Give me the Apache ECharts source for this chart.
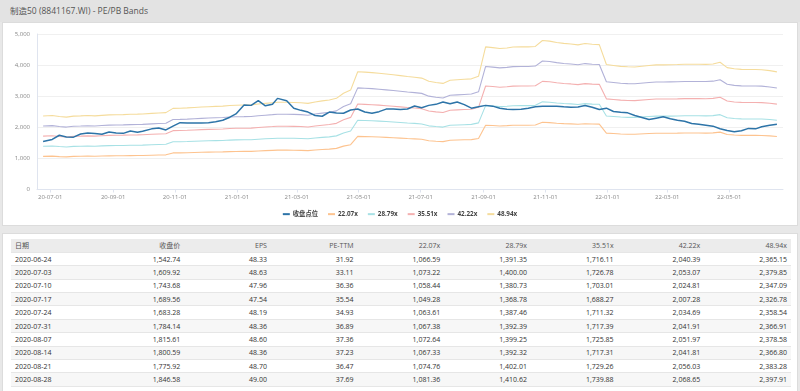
<!DOCTYPE html>
<html><head><meta charset="utf-8">
<script src="https://cdn.jsdelivr.net/npm/echarts@6/dist/echarts.min.js"></script>
<style>
body{margin:0;width:800px;height:391px;overflow:hidden;background:#e8e8e8;font-family:"Open Sans","Noto Sans CJK SC",sans-serif;position:relative}
#title{position:absolute;left:0;top:0;width:800px;height:22px;background:#e3e3e3;color:#555;font-size:8.5px;line-height:22px;padding-left:10px;box-sizing:border-box}
#panel{position:absolute;left:2px;top:22px;width:796px;height:204px;background:#fff;border:1px solid #dcdcdc;box-sizing:border-box}
#chart{position:absolute;left:0;top:22px;width:800px;height:204px}
#tpanel{position:absolute;left:2px;top:233px;width:796px;height:170px;background:#fff;border:1px solid #dcdcdc;box-sizing:border-box}
#tbl{position:absolute;left:8px;top:5px;width:780px;border-collapse:collapse;table-layout:fixed;font-size:7px;color:#333}
#tbl td,#tbl th{height:13.4px;padding:0 4px;text-align:right;border-bottom:1px solid #e6e6e6;font-weight:normal;white-space:nowrap;box-sizing:border-box}
#tbl th{background:#ececec;color:#555}
#tbl td:first-child,#tbl th:first-child{text-align:left}
#tbl tr.alt td{background:#f7f7f7}
</style></head>
<body>
<div id="title">制造50 (8841167.WI) - PE/PB Bands</div>
<div id="panel"></div>
<div id="chart"></div>
<div id="tpanel"><table id="tbl"></table></div>
<script>
// ---------- data ----------
const dates = [
'2020-06-24','2020-07-03','2020-07-10','2020-07-17','2020-07-24','2020-07-31','2020-08-07','2020-08-14','2020-08-21','2020-08-28',
'2020-09-04','2020-09-11','2020-09-18','2020-09-25','2020-09-30','2020-10-09','2020-10-16','2020-10-23','2020-10-30','2020-11-06',
'2020-11-13','2020-11-20','2020-11-27','2020-12-04','2020-12-11','2020-12-18','2020-12-25','2020-12-31','2021-01-08','2021-01-15',
'2021-01-22','2021-01-29','2021-02-05','2021-02-10','2021-02-19','2021-02-26','2021-03-05','2021-03-12','2021-03-19','2021-03-26',
'2021-04-02','2021-04-09','2021-04-16','2021-04-23','2021-04-30','2021-05-07','2021-05-14','2021-05-21','2021-05-28','2021-06-04',
'2021-06-11','2021-06-18','2021-06-25','2021-07-02','2021-07-09','2021-07-16','2021-07-23','2021-07-30','2021-08-06','2021-08-13',
'2021-08-20','2021-08-27','2021-09-03','2021-09-10','2021-09-17','2021-09-24','2021-09-30','2021-10-08','2021-10-15','2021-10-22',
'2021-10-29','2021-11-05','2021-11-12','2021-11-19','2021-11-26','2021-12-03','2021-12-10','2021-12-17','2021-12-24','2021-12-31',
'2022-01-07','2022-01-14','2022-01-21','2022-01-28','2022-02-11','2022-02-18','2022-02-25','2022-03-04','2022-03-11','2022-03-18',
'2022-03-25','2022-04-01','2022-04-08','2022-04-15','2022-04-22','2022-04-29','2022-05-06','2022-05-13','2022-05-20','2022-05-27',
'2022-06-02','2022-06-10','2022-06-17'];
const closeVals = [
1542.74,1609.92,1743.68,1689.56,1683.28,1784.14,1815.61,1800.59,1775.92,1846.58,
1820,1805,1880,1840,1870,1950,1975,1915,2040,2150,
2135,2140,2140,2150,2175,2225,2325,2430,2715,2705,
2855,2690,2740,2930,2855,2610,2545,2490,2380,2355,
2490,2460,2450,2556,2590,2490,2450,2503,2585,2585,
2575,2590,2685,2630,2705,2738,2813,2755,2815,2730,
2615,2660,2705,2680,2615,2583,2572,2580,2615,2658,
2679,2679,2680,2660,2645,2650,2700,2647,2572,2615,
2508,2486,2465,2380,2251,2294,2337,2272,2230,2197,
2123,2101,2069,2037,1951,1898,1860,1890,1965,1950,
2016,2069,2100];
const epsVals = [
48.33,48.63,47.96,47.54,48.19,48.36,48.60,48.36,48.70,49.00,
49.1,49.2,49.4,49.5,49.6,50.0,50.3,50.5,53.3,53.4,
53.6,53.9,54.2,54.4,54.6,54.8,55.2,55.4,55.5,55.6,
56.2,56.6,57.0,57.3,57.3,57.2,57.0,56.6,57.5,58.2,
58.8,59.9,63.2,65.3,77.4,77.1,76.8,76.4,75.9,75.4,
74.8,74.2,73.8,73.2,71.1,70.3,69.7,71.8,72.1,72.4,
72.7,74.4,93.7,93.2,92.6,93.0,93.6,93.7,93.7,94.0,
97.9,97.5,96.6,96.0,95.6,95.0,95.9,95.4,95.2,82.1,
81.5,80.9,80.6,80.5,81.5,81.9,81.9,82.0,82.1,82.3,
82.3,82.3,82.2,82.5,83.6,80.1,79.3,78.9,78.8,78.8,
78.7,78.1,77.3];
const multiples = [22.07, 28.79, 35.51, 42.22, 48.94];
const bandNames = ['22.07x','28.79x','35.51x','42.22x','48.94x'];
const closeName = '收盘点位';
const yTicks = [0, 1000, 2000, 3000, 4000, 5000];
const xTickDates = ['2020-07-01','2020-09-01','2020-11-01','2021-01-01','2021-03-01','2021-05-01',
  '2021-07-01','2021-09-01','2021-11-01','2022-01-01','2022-03-01','2022-05-01'];
// table
const tableHeaders = ['日期','收盘价','EPS','PE-TTM','22.07x','28.79x','35.51x','42.22x','48.94x'];
const tDates = ['2020-06-24','2020-07-03','2020-07-10','2020-07-17','2020-07-24','2020-07-31','2020-08-07','2020-08-14','2020-08-21','2020-08-28'];
const tClose = ['1,542.74','1,609.92','1,743.68','1,689.56','1,683.28','1,784.14','1,815.61','1,800.59','1,775.92','1,846.58'];
const tEps = ['48.33','48.63','47.96','47.54','48.19','48.36','48.60','48.36','48.70','49.00'];
const tPe = ['31.92','33.11','36.36','35.54','34.93','36.89','37.36','37.23','36.47','37.69'];
const t22 = ['1,066.59','1,073.22','1,058.44','1,049.28','1,063.61','1,067.38','1,072.64','1,067.33','1,074.76','1,081.36'];
const t28 = ['1,391.35','1,400.00','1,380.73','1,368.78','1,387.46','1,392.39','1,399.25','1,392.32','1,402.01','1,410.62'];
const t35 = ['1,716.11','1,726.78','1,703.01','1,688.27','1,711.32','1,717.39','1,725.85','1,717.31','1,729.26','1,739.88'];
const t42 = ['2,040.39','2,053.07','2,024.81','2,007.28','2,034.69','2,041.91','2,051.97','2,041.81','2,056.03','2,068.65'];
const t48 = ['2,365.15','2,379.85','2,347.09','2,326.78','2,358.54','2,366.91','2,378.58','2,366.80','2,383.28','2,397.91'];

// ---------- styles ----------
const closeColor = '#2d74a8';
const bandColors = ['#fdc38f','#a7e1e5','#f4b0b0','#b2b2d8','#f5dc9c'];

// ---------- table ----------
(function(){
  let html = '<tr>' + tableHeaders.map(h => '<th>' + h + '</th>').join('') + '</tr>';
  tDates.forEach((d, i) => {
    const cells = [d, tClose[i], tEps[i], tPe[i], t22[i], t28[i], t35[i], t42[i], t48[i]];
    html += '<tr' + (i % 2 ? ' class="alt"' : '') + '>' + cells.map(c => '<td>' + c + '</td>').join('') + '</tr>';
  });
  document.getElementById('tbl').innerHTML = html;
})();

// ---------- chart ----------
const chart = echarts.init(document.getElementById('chart'), null, {renderer: 'canvas'});
const ts = s => +echarts.time.parse(s);
const series = [];
multiples.forEach((m, k) => {
  series.push({
    name: bandNames[k], type: 'line', symbol: 'none', z: 2,
    lineStyle: {width: 1.1, color: bandColors[k]}, itemStyle: {color: bandColors[k]},
    data: dates.map((d, i) => [ts(d), +(m * epsVals[i]).toFixed(2)])
  });
});
series.unshift({
  name: closeName, type: 'line', symbol: 'none', z: 5,
  lineStyle: {width: 1.5, color: closeColor}, itemStyle: {color: closeColor},
  data: dates.map((d, i) => [ts(d), closeVals[i]])
});
const xTickVals = xTickDates.map(ts);
chart.setOption({
  animation: false,
  textStyle: {fontFamily: '"Open Sans","Noto Sans CJK SC",sans-serif'},
  grid: {left: 37, right: 17, top: 12, height: 155.5},
  legend: {
    top: 184, left: 'center', icon: 'rect', itemWidth: 7, itemHeight: 2, itemGap: 10,
    data: [closeName].concat(bandNames),
    textStyle: {fontSize: 6.3, fontWeight: 'bold', color: '#444', padding: [0, 0, 0, -2]}
  },
  xAxis: {
    type: 'value', min: ts('2020-06-18'), max: ts('2022-06-23'),
    axisLine: {lineStyle: {color: '#dfe4ef'}},
    axisTick: {show: true, customValues: xTickVals, length: 3, lineStyle: {color: '#dfe4ef'}},
    splitLine: {show: false},
    axisLabel: {customValues: xTickVals, fontSize: 6, color: '#888', margin: 5,
      formatter: v => echarts.time.format(v, '{yy}-{MM}-{dd}', false)}
  },
  yAxis: {
    type: 'value', min: yTicks[0], max: yTicks[yTicks.length - 1], interval: 1000,
    axisLine: {show: true, lineStyle: {color: '#dfe4ef'}},
    axisTick: {show: false},
    splitLine: {lineStyle: {color: '#f0f0f0'}},
    axisLabel: {fontSize: 6, color: '#888', margin: 7,
      formatter: v => v.toLocaleString('en-US')}
  },
  series: series
});
</script>
</body></html>
